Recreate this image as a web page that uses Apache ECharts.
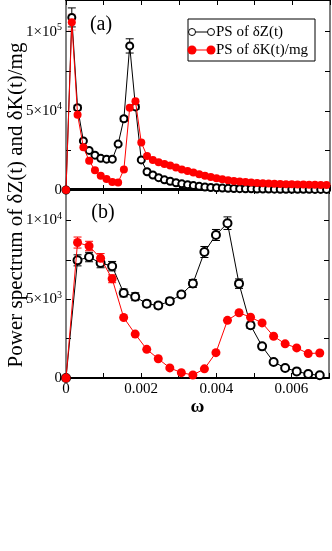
<!DOCTYPE html>
<html>
<head>
<meta charset="utf-8">
<script src="https://cdn.jsdelivr.net/npm/echarts@6/dist/echarts.min.js"></script>
<style>
  html, body { margin: 0; padding: 0; background: #fff; }
  #chart { width: 332px; height: 551px; }
</style>
</head>
<body>
<div id="chart"></div>
<script>
// omega grid of panel (a)
const omegaA = [0, 0.000154, 0.000307, 0.000461, 0.000614, 0.000768, 0.000921, 0.001075, 0.001228, 0.001382,
  0.001535, 0.001689, 0.001842, 0.001996, 0.002149, 0.002303, 0.002456, 0.00261, 0.002763, 0.002917,
  0.00307, 0.003224, 0.003377, 0.003531, 0.003684, 0.003838, 0.003991, 0.004145, 0.004298, 0.004452,
  0.004605, 0.004759, 0.004912, 0.005066, 0.005219, 0.005373, 0.005526, 0.00568, 0.005833, 0.005987,
  0.00614, 0.006294, 0.006447, 0.006601, 0.006754, 0.006908]
// PS of dZ(t), panel (a)
const psZA = [0, 109000, 52000, 31000, 25000, 22000, 20000, 19500, 19500, 29000,
  45000, 91000, 52500, 19000, 11500, 9500, 7800, 6400, 5500, 4600,
  3900, 3300, 2800, 2300, 1900, 1600, 1400, 1200, 1050, 950,
  850, 780, 720, 660, 610, 570, 530, 500, 470, 450,
  430, 410, 400, 390, 380, 370]
// PS of dK(t)/mg, panel (a)
const psKA = [0, 106000, 47500, 27000, 18500, 12500, 9000, 7000, 5000, 4800,
  13000, 52000, 56000, 30000, 21500, 19000, 17500, 16500, 15500, 14200,
  13000, 12000, 11000, 10000, 9000, 8200, 7500, 6800, 6200, 5700,
  5300, 5000, 4700, 4500, 4300, 4100, 4000, 3800, 3700, 3600,
  3500, 3400, 3300, 3300, 3200, 3200]
const errZA = [0, 6000, 1500, 0, 0, 0, 0, 0, 0, 800,
  1500, 4500, 1500, 0]
const errKA = [0, 5000]

// omega grid of panel (b)
const omegaB = [0, 0.000307, 0.000614, 0.000921, 0.001228, 0.001535, 0.001842, 0.002149, 0.002456, 0.002763,
  0.00307, 0.003377, 0.003684, 0.003991, 0.004298, 0.004605, 0.004912, 0.005219, 0.005526, 0.005833,
  0.00614, 0.006447, 0.006754]
const psZB = [0, 7470, 7680, 7300, 7100, 5400, 5160, 4720, 4600, 4880,
  5300, 6000, 8000, 9080, 9830, 5990, 3350, 2010, 1020, 640,
  420, 250, 170]
const psKB = [0, 8600, 8380, 7600, 6300, 3840, 2790, 1820, 1220, 640,
  340, 190, 580, 1610, 3660, 4140, 3860, 3500, 2650, 2170,
  1910, 1550, 1590]
const errZB = [0, 350, 300, 300, 300, 250, 250, 200, 200, 200,
  200, 250, 350, 350, 400, 300, 200, 0]
const errKB = [0, 350, 300, 300, 250]

// tick labels
const xTickVals = [0, 0.002, 0.004, 0.006]
const xTickText = ['0', '0.002', '0.004', '0.006']
const yTickValsA = [0, 50000, 100000]
const yTickMantA = ['0', '5×10', '1×10']
const yTickExpA = ['', '4', '5']
const yTickValsB = [0, 5000, 10000]
const yTickMantB = ['0', '5×10', '1×10']
const yTickExpB = ['', '3', '4']

const FONT = 'Liberation Serif'
const pairs = (xs, ys) => xs.map((x, i) => [x, ys[i]])
const errData = (xs, ys, es) => es.map((e, i) => [xs[i], ys[i] - e, ys[i] + e]).filter((d, i) => es[i] > 0)

const yLabelFmt = (vals, mant, exp) => v => {
  const i = vals.findIndex(t => Math.abs(t - v) < 1e-6)
  if (i < 0) return ''
  return exp[i] ? `{m|${mant[i]}}{e|${exp[i]}}` : `{m|${mant[i]}}`
}
const yRich = {
  m: { fontFamily: FONT, fontSize: 15, color: '#000' },
  e: { fontFamily: FONT, fontSize: 10, color: '#000', verticalAlign: 'bottom', padding: [0, 0, 8, 0] }
}

const chart = echarts.init(document.getElementById('chart'))

const baseX = (grid, pos, extra) => Object.assign({
  type: 'value', gridIndex: grid, position: pos, min: 0, max: 0.007, interval: 0.001,
  splitLine: { show: false },
  axisLine: { show: true, onZero: false, lineStyle: { color: '#000', width: 2 } },
  axisTick: { show: true, inside: true, length: 5, lineStyle: { color: '#000' } },
  axisLabel: { show: false }
}, extra || {})
const baseY = (grid, pos, max, interval, extra) => Object.assign({
  type: 'value', gridIndex: grid, position: pos, min: 0, max: max, interval: interval,
  splitLine: { show: false },
  axisLine: { show: true, onZero: false, lineStyle: { color: '#808080', width: 2 } },
  axisTick: { show: true, inside: true, length: 5, lineStyle: { color: '#000' } },
  axisLabel: { show: false }
}, extra || {})

const errorSeries = (xi, yi, data, color) => ({
  type: 'custom', xAxisIndex: xi, yAxisIndex: yi, data: data, z: 3,
  renderItem: (params, api) => {
    const lo = api.coord([api.value(0), api.value(1)])
    const hi = api.coord([api.value(0), api.value(2)])
    const w = 4
    const st = { stroke: color, lineWidth: 1 }
    return {
      type: 'group', children: [
        { type: 'line', shape: { x1: lo[0], y1: lo[1], x2: hi[0], y2: hi[1] }, style: st },
        { type: 'line', shape: { x1: lo[0] - w, y1: lo[1], x2: lo[0] + w, y2: lo[1] }, style: st },
        { type: 'line', shape: { x1: hi[0] - w, y1: hi[1], x2: hi[0] + w, y2: hi[1] }, style: st }
      ]
    }
  }
})

chart.setOption({
  animation: false,
  grid: [
    { left: 66, top: 0, width: 264, height: 190 },
    { left: 66, top: 189, width: 264, height: 189 }
  ],
  xAxis: [
    baseX(0, 'bottom'),
    baseX(0, 'top'),
    baseX(1, 'bottom', {
      axisLabel: {
        show: true, margin: 4, fontFamily: FONT, fontSize: 15, color: '#000',
        formatter: v => {
          const i = xTickVals.findIndex(t => Math.abs(t - v) < 1e-9)
          return i < 0 ? '' : xTickText[i]
        }
      },
      name: 'ω', nameLocation: 'middle', nameGap: 20,
      nameTextStyle: { fontFamily: FONT, fontSize: 19, fontWeight: 'bold', color: '#000' }
    }),
    baseX(1, 'top')
  ],
  yAxis: [
    baseY(0, 'left', 120000, 25000, {
      axisLabel: { show: true, margin: 4, showMaxLabel: false, formatter: yLabelFmt(yTickValsA, yTickMantA, yTickExpA), rich: yRich }
    }),
    baseY(0, 'right', 120000, 25000),
    baseY(1, 'left', 12000, 2500, {
      axisLabel: { show: true, margin: 4, showMaxLabel: false, formatter: yLabelFmt(yTickValsB, yTickMantB, yTickExpB), rich: yRich }
    }),
    baseY(1, 'right', 12000, 2500)
  ],
  series: [
    errorSeries(0, 0, errData(omegaA, psZA, errZA), '#000'),
    errorSeries(0, 0, errData(omegaA, psKA, errKA), '#ff9a9a'),
    {
      name: 'PS of δZ(t)', type: 'line', xAxisIndex: 0, yAxisIndex: 0, data: pairs(omegaA, psZA),
      symbol: 'emptyCircle', symbolSize: 7, z: 4,
      lineStyle: { color: '#000', width: 1 }, itemStyle: { color: '#000', borderWidth: 1 }
    },
    {
      name: 'PS of δK(t)/mg', type: 'line', xAxisIndex: 0, yAxisIndex: 0, data: pairs(omegaA, psKA),
      symbol: 'circle', symbolSize: 8, z: 5,
      lineStyle: { color: '#ff0000', width: 1 }, itemStyle: { color: '#ff0000' }
    },
    errorSeries(2, 2, errData(omegaB, psZB, errZB), '#000'),
    errorSeries(2, 2, errData(omegaB, psKB, errKB), '#ff0000'),
    {
      type: 'line', xAxisIndex: 2, yAxisIndex: 2, data: pairs(omegaB, psZB),
      symbol: 'emptyCircle', symbolSize: 8, z: 4,
      lineStyle: { color: '#000', width: 1 }, itemStyle: { color: '#000', borderWidth: 1 }
    },
    {
      type: 'line', xAxisIndex: 2, yAxisIndex: 2, data: pairs(omegaB, psKB),
      symbol: 'circle', symbolSize: 9, z: 5,
      lineStyle: { color: '#ff0000', width: 1 }, itemStyle: { color: '#ff0000' }
    }
  ],
  graphic: [
    // y axis title
    {
      type: 'text', x: 16, y: 205, rotation: Math.PI / 2,
      style: { text: 'Power spectrum of δZ(t) and δK(t)/mg', fontFamily: FONT, fontSize: 21, fill: '#000',
        align: 'center', verticalAlign: 'middle' }
    },
    { type: 'text', x: 101, y: 25, style: { text: '(a)', fontFamily: FONT, fontSize: 20, fill: '#000', align: 'center', verticalAlign: 'middle' } },
    { type: 'text', x: 103, y: 213, style: { text: '(b)', fontFamily: FONT, fontSize: 20, fill: '#000', align: 'center', verticalAlign: 'middle' } },
    // legend
    {
      type: 'group', z: 100, children: [
        { type: 'rect', shape: { x: 188, y: 19, width: 127, height: 42 }, style: { fill: '#fff', stroke: '#000', lineWidth: 1 } },
        { type: 'line', shape: { x1: 192, y1: 32, x2: 211, y2: 32 }, style: { stroke: '#000', lineWidth: 1 } },
        { type: 'circle', shape: { cx: 192, cy: 32, r: 3.5 }, style: { fill: '#fff', stroke: '#000', lineWidth: 1 } },
        { type: 'circle', shape: { cx: 211, cy: 32, r: 3.5 }, style: { fill: '#fff', stroke: '#000', lineWidth: 1 } },
        { type: 'text', x: 216, y: 32, style: { text: 'PS of δZ(t)', fontFamily: FONT, fontSize: 15, fill: '#000', verticalAlign: 'middle' } },
        { type: 'line', shape: { x1: 192, y1: 50, x2: 211, y2: 50 }, style: { stroke: '#ff0000', lineWidth: 1 } },
        { type: 'circle', shape: { cx: 192, cy: 50, r: 4.5 }, style: { fill: '#ff0000' } },
        { type: 'circle', shape: { cx: 211, cy: 50, r: 4.5 }, style: { fill: '#ff0000' } },
        { type: 'text', x: 216, y: 50, style: { text: 'PS of δK(t)/mg', fontFamily: FONT, fontSize: 15, fill: '#000', verticalAlign: 'middle' } }
      ]
    }
  ]
})
</script>
</body>
</html>
